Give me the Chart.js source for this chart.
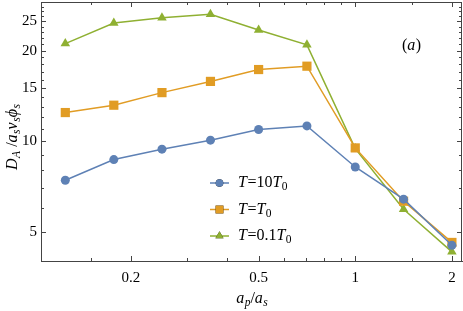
<!DOCTYPE html>
<html>
  <head>
    <title>Diffusion vs size ratio</title>
    <script src="https://cdn.jsdelivr.net/npm/chart.js"></script>
    <style>
      body { margin: 0; background: #fff; }
    </style>
  </head>
  <body>
    <canvas id="diffChart" width="463" height="311"></canvas>
    <script>
      // data
      const ratios = [0.125, 0.177, 0.25, 0.354, 0.5, 0.707, 1, 1.414, 2];
      const hotValues = [7.42, 8.69, 9.41, 10.08, 10.94, 11.24, 8.21, 6.42, 4.51];
      const midValues = [12.45, 13.17, 14.5, 15.8, 17.3, 17.75, 9.5, 6.32, 4.61];
      const coldValues = [21.1, 24.7, 25.7, 26.4, 23.4, 20.9, 9.45, 5.94, 4.29];
      const legendFactors = ["10", "", "0.1"];

      const xMajorTicks = [0.2, 0.5, 1, 2];
      const xMinorTicks = [0.15, 0.3, 0.4, 0.6, 0.7, 0.8, 0.9, 1.5];
      const yMajorTicks = [5, 10, 15, 20, 25];
      const yMinorTicks = [4, 6, 7, 8, 9, 11, 12, 13, 14, 16, 17, 18, 19, 21, 22, 23, 24, 26, 27, 28, 29];

      const colors = ["#5E81B5", "#E19C24", "#8FB032"];
      const pointStyles = ["circle", "rect", "triangle"];
      const pointSizes = [4.5, 6.5, 5.5];
      const FONT = "'Liberation Serif', 'DejaVu Serif', serif";
      const FRAME = "#444";

      function pairs(ys) {
        return ratios.map((x, i) => ({ x: x, y: ys[i] }));
      }

      // draw text made of pieces: [text, italic, subscript]
      function drawPieces(ctx, pieces, x, y, size) {
        let cx = x;
        pieces.forEach(([t, it, sub]) => {
          const s = sub ? size * 0.72 : size;
          ctx.font = (it ? "italic " : "") + s + "px " + FONT;
          ctx.fillText(t, cx, sub ? y + size * 0.25 : y);
          cx += ctx.measureText(t).width + (it && !sub ? 0.5 : 0);
        });
        return cx - x;
      }
      function piecesWidth(ctx, pieces, size) {
        let w = 0;
        pieces.forEach(([t, it, sub]) => {
          const s = sub ? size * 0.72 : size;
          ctx.font = (it ? "italic " : "") + s + "px " + FONT;
          w += ctx.measureText(t).width + (it && !sub ? 0.5 : 0);
        });
        return w;
      }

      const framePlugin = {
        id: "framePlugin",
        afterDraw(chart) {
          const ctx = chart.ctx;
          const a = chart.chartArea;
          const xs = chart.scales.x;
          const ys = chart.scales.y;
          ctx.save();
          ctx.strokeStyle = FRAME;
          ctx.lineWidth = 1;
          ctx.beginPath();
          ctx.moveTo(a.left, a.top + 0.5);
          ctx.lineTo(a.right - 0.5, a.top + 0.5);
          ctx.lineTo(a.right - 0.5, a.bottom);
          ctx.stroke();

          // inward ticks on all four sides
          ctx.beginPath();
          const xt = (list, len) => list.forEach((v) => {
            const px = Math.round(xs.getPixelForValue(v)) + 0.5;
            ctx.moveTo(px, a.bottom); ctx.lineTo(px, a.bottom - len);
            ctx.moveTo(px, a.top); ctx.lineTo(px, a.top + len);
          });
          const yt = (list, len) => list.forEach((v) => {
            const py = Math.round(ys.getPixelForValue(v)) + 0.5;
            ctx.moveTo(a.left, py); ctx.lineTo(a.left + len, py);
            ctx.moveTo(a.right, py); ctx.lineTo(a.right - len, py);
          });
          xt(xMajorTicks, 5); xt(xMinorTicks, 3);
          yt(yMajorTicks, 5); yt(yMinorTicks, 3);
          ctx.stroke();

          // legend
          ctx.textBaseline = "middle";
          ctx.fillStyle = "#000";
          chart.data.datasets.forEach((ds, i) => {
            const ly = 183 + i * 26.5;
            ctx.strokeStyle = colors[i];
            ctx.lineWidth = 1.5;
            ctx.beginPath();
            ctx.moveTo(210, ly); ctx.lineTo(229, ly);
            ctx.stroke();
            Chart.helpers.drawPoint(ctx, {
              pointStyle: pointStyles[i], radius: pointSizes[i] * 0.85, rotation: 0,
              borderWidth: 0
            }, 219.5, ly);
            ctx.fillStyle = colors[i];
            ctx.fill();
            ctx.fillStyle = "#000";
            const pieces = [["T", true, false], ["=" + legendFactors[i], false, false], ["T", true, false], ["0", false, true]];
            drawPieces(ctx, pieces, 238, ly, 16);
          });

          // panel tag
          drawPieces(ctx, [["(", false, false], ["a", true, false], [")", false, false]], 402, 46, 16);

          // x title
          const xPieces = [["a", true, false], ["p", true, true], ["/", false, false], ["a", true, false], ["s", true, true]];
          const xw = piecesWidth(ctx, xPieces, 16);
          drawPieces(ctx, xPieces, 252 - xw / 2, 299, 16);

          // y title, rotated
          const yPieces = [["D", true, false], ["A", true, true], [" /", false, false], ["a", true, false], ["s", true, true],
            ["v", true, false], ["s", true, true], ["\u03d5", true, false], ["s", true, true]];
          const yw = piecesWidth(ctx, yPieces, 16);
          ctx.translate(13, 137);
          ctx.rotate(-Math.PI / 2);
          drawPieces(ctx, yPieces, -yw / 2, 0, 16);
          ctx.restore();
        }
      };

      const ctx = document.getElementById("diffChart").getContext("2d");
      new Chart(ctx, {
        type: "line",
        data: {
          datasets: [hotValues, midValues, coldValues].map((vals, i) => ({
            data: pairs(vals),
            borderColor: colors[i],
            backgroundColor: colors[i],
            borderWidth: 1.5,
            pointStyle: pointStyles[i],
            pointRadius: pointSizes[i],
            pointBorderWidth: 0,
            tension: 0,
          })),
        },
        options: {
          responsive: false,
          animation: false,
          layout: { autoPadding: false, padding: { top: 2, right: 1, left: 0, bottom: 0 } },
          plugins: { legend: { display: false }, tooltip: { enabled: false } },
          scales: {
            x: {
              type: "logarithmic",
              min: 0.105,
              max: 2.15,
              afterBuildTicks: (s) => { s.ticks = xMajorTicks.map((v) => ({ value: v })); },
              afterFit: (s) => { s.height = 50; s.paddingLeft = 0; s.paddingRight = 0; },
              ticks: {
                color: "#000",
                padding: 8,
                maxRotation: 0,
                font: { family: FONT, size: 15 },
                callback: (v) => String(v),
              },
              grid: { drawOnChartArea: false, drawTicks: false },
              border: { color: FRAME, width: 1 },
            },
            y: {
              type: "logarithmic",
              min: 4.0,
              max: 29,
              afterBuildTicks: (s) => { s.ticks = yMajorTicks.map((v) => ({ value: v })); },
              afterFit: (s) => { s.width = 41; s.paddingTop = 0; s.paddingBottom = 0; },
              ticks: {
                color: "#000",
                padding: 4,
                font: { family: FONT, size: 15 },
                callback: (v) => String(v),
              },
              grid: { drawOnChartArea: false, drawTicks: false },
              border: { color: FRAME, width: 1 },
            },
          },
        },
        plugins: [framePlugin],
      });
    </script>
  </body>
</html>
